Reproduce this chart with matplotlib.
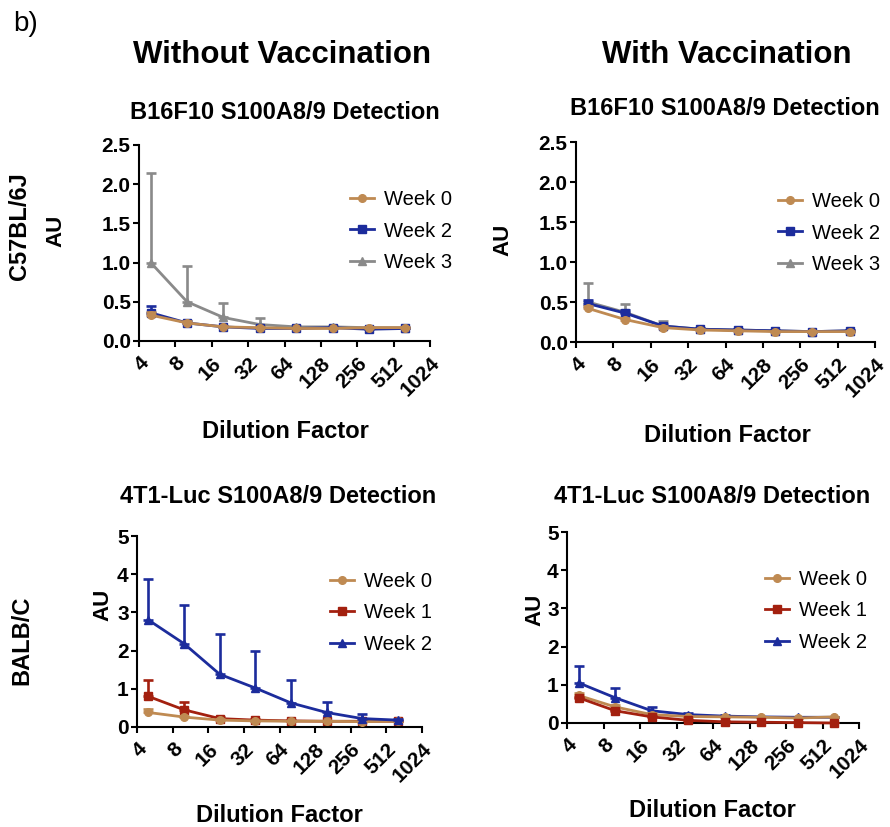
import matplotlib
matplotlib.use("Agg")
import matplotlib.pyplot as plt
import numpy as np

plt.rcParams['font.family'] = ['Liberation Sans', 'DejaVu Sans']

# ---------------- data ----------------
dilution = [5, 10, 20, 40, 80, 160, 320, 640]
xtick_vals = [4, 8, 16, 32, 64, 128, 256, 512, 1024]

# Top-left: C57BL/6J, without vaccination
tl_w0 = [0.33, 0.23, 0.18, 0.17, 0.16, 0.16, 0.17, 0.17]
tl_w0_err = [0.04, 0.02, 0.01, 0.01, 0.01, 0.01, 0.01, 0.01]
tl_w2 = [0.36, 0.23, 0.18, 0.16, 0.16, 0.17, 0.15, 0.16]
tl_w2_err = [0.09, 0.02, 0.01, 0.01, 0.01, 0.01, 0.01, 0.01]
tl_w3 = [1.00, 0.50, 0.30, 0.21, 0.18, 0.18, 0.17, 0.17]
tl_w3_err = [1.14, 0.46, 0.18, 0.08, 0.01, 0.01, 0.01, 0.01]

# Top-right: C57BL/6J, with vaccination
tr_w0 = [0.42, 0.28, 0.18, 0.15, 0.14, 0.13, 0.13, 0.13]
tr_w0_err = [0.03, 0.02, 0.02, 0.01, 0.01, 0.01, 0.01, 0.01]
tr_w2 = [0.48, 0.36, 0.20, 0.16, 0.15, 0.14, 0.13, 0.14]
tr_w2_err = [0.05, 0.04, 0.02, 0.01, 0.01, 0.01, 0.01, 0.01]
tr_w3 = [0.50, 0.37, 0.20, 0.16, 0.15, 0.14, 0.13, 0.14]
tr_w3_err = [0.24, 0.11, 0.06, 0.02, 0.01, 0.01, 0.01, 0.01]

# Bottom-left: BALB/C, without vaccination
bl_w0 = [0.38, 0.26, 0.18, 0.16, 0.15, 0.15, 0.14, 0.15]
bl_w0_err = [0.10, 0.03, 0.02, 0.01, 0.01, 0.01, 0.01, 0.01]
bl_w1 = [0.80, 0.45, 0.22, 0.18, 0.16, 0.15, 0.15, 0.15]
bl_w1_err = [0.42, 0.21, 0.04, 0.03, 0.02, 0.01, 0.01, 0.01]
bl_w2 = [2.80, 2.18, 1.38, 1.02, 0.63, 0.38, 0.22, 0.18]
bl_w2_err = [1.08, 1.02, 1.05, 0.98, 0.60, 0.27, 0.13, 0.04]

# Bottom-right: BALB/C, with vaccination
br_w0 = [0.72, 0.42, 0.22, 0.17, 0.16, 0.15, 0.13, 0.16]
br_w0_err = [0.07, 0.04, 0.03, 0.02, 0.01, 0.01, 0.01, 0.01]
br_w1 = [0.66, 0.32, 0.16, 0.07, 0.03, 0.02, 0.01, 0.00]
br_w1_err = [0.03, 0.02, 0.02, 0.01, 0.01, 0.01, 0.01, 0.01]
br_w2 = [1.05, 0.66, 0.32, 0.22, 0.18, 0.16, 0.15, 0.15]
br_w2_err = [0.43, 0.26, 0.10, 0.03, 0.02, 0.01, 0.01, 0.01]

C_TAN = "#BF8A52"
C_BLUE = "#1C2C9C"
C_GRAY = "#8A8A8A"
C_RED = "#A3200F"

W, H = 890, 827
fig = plt.figure(figsize=(W / 100, H / 100), dpi=100)


def px_axes(left, right, top, bottom):
    return fig.add_axes([left / W, 1 - bottom / H, (right - left) / W, (bottom - top) / H])


def ftext(x, y, s, **kw):
    fig.text(x / W, 1 - y / H, s, **kw)


def series(ax, y, err, color, marker, label, z):
    y = np.asarray(y)
    err = np.asarray(err)
    ax.errorbar(dilution, y, yerr=[np.zeros_like(err), err], fmt='none',
                ecolor=color, elinewidth=1.9, capsize=3.5, capthick=1.9, zorder=z)
    ln, = ax.plot(dilution, y, color=color, lw=2.0, marker=marker, ms=5.5,
                  mfc=color, mec=color, label=label, zorder=z + 0.5, clip_on=False)
    return ln


def style(ax, ymax, ystep, fmt):
    ax.set_xscale('log', base=2)
    ax.set_xlim(4, 1024)
    ax.set_ylim(0, ymax)
    ax.set_xticks(xtick_vals)
    ax.set_xticklabels([str(v) for v in xtick_vals], rotation=45, ha='right',
                       rotation_mode='anchor', fontsize=15, fontweight='bold')
    ax.xaxis.set_minor_locator(matplotlib.ticker.NullLocator())
    yt = np.arange(0, ymax + 1e-9, ystep)
    ax.set_yticks(yt)
    ax.set_yticklabels([fmt.format(v) for v in yt], fontsize=15, fontweight='bold')
    for s in ['top', 'right']:
        ax.spines[s].set_visible(False)
    for s in ['left', 'bottom']:
        ax.spines[s].set_linewidth(1.5)
    ax.tick_params(axis='both', direction='out', length=4, width=1.5)
    ax.tick_params(axis='x', pad=5)
    ax.tick_params(axis='y', pad=2)
    ax.patch.set_alpha(0)


def legend(ax, handles, hx, hy):
    ax.legend(handles=handles, loc='center left', bbox_to_anchor=(hx / W, 1 - hy / H),
              bbox_transform=fig.transFigure, frameon=False, fontsize=14.5,
              borderpad=0, borderaxespad=0, handlelength=1.2, handletextpad=0.5,
              labelspacing=0.6)


# Top-left
ax1 = px_axes(139, 430, 145, 341)
g = series(ax1, tl_w3, tl_w3_err, C_GRAY, '^', 'Week 3', 2)
b = series(ax1, tl_w2, tl_w2_err, C_BLUE, 's', 'Week 2', 3)
t = series(ax1, tl_w0, tl_w0_err, C_TAN, 'o', 'Week 0', 4)
style(ax1, 2.5, 0.5, "{:.1f}")
legend(ax1, [t, b, g], 350, 231)

# Top-right
ax2 = px_axes(576, 875, 142, 342)
g = series(ax2, tr_w3, tr_w3_err, C_GRAY, '^', 'Week 3', 2)
b = series(ax2, tr_w2, tr_w2_err, C_BLUE, 's', 'Week 2', 3)
t = series(ax2, tr_w0, tr_w0_err, C_TAN, 'o', 'Week 0', 4)
style(ax2, 2.5, 0.5, "{:.1f}")
legend(ax2, [t, b, g], 778, 233)

# Bottom-left
ax3 = px_axes(137, 422, 536, 727)
r = series(ax3, bl_w1, bl_w1_err, C_RED, 's', 'Week 1', 2)
t = series(ax3, bl_w0, bl_w0_err, C_TAN, 'o', 'Week 0', 3)
b = series(ax3, bl_w2, bl_w2_err, C_BLUE, '^', 'Week 2', 4)
style(ax3, 5, 1, "{:.0f}")
legend(ax3, [t, r, b], 330, 613)

# Bottom-right
ax4 = px_axes(567, 859, 532, 723)
b = series(ax4, br_w2, br_w2_err, C_BLUE, '^', 'Week 2', 2)
t = series(ax4, br_w0, br_w0_err, C_TAN, 'o', 'Week 0', 3)
r = series(ax4, br_w1, br_w1_err, C_RED, 's', 'Week 1', 4)
style(ax4, 5, 1, "{:.0f}")
legend(ax4, [t, r, b], 765, 611)

# ---------------- texts ----------------
ftext(13, 24, "b)", fontsize=20, ha='left', va='center')
ftext(282, 63, "Without Vaccination", fontsize=22.5, fontweight='bold', ha='center', va='baseline')
ftext(727, 63, "With Vaccination", fontsize=22.5, fontweight='bold', ha='center', va='baseline')

ftext(285, 119, "B16F10 S100A8/9 Detection", fontsize=17, fontweight='bold', ha='center', va='baseline')
ftext(725, 115, "B16F10 S100A8/9 Detection", fontsize=17, fontweight='bold', ha='center', va='baseline')
ftext(278, 503, "4T1-Luc S100A8/9 Detection", fontsize=17, fontweight='bold', ha='center', va='baseline')
ftext(712, 503, "4T1-Luc S100A8/9 Detection", fontsize=17, fontweight='bold', ha='center', va='baseline')

ftext(285, 438, "Dilution Factor", fontsize=17, fontweight='bold', ha='center', va='baseline')
ftext(727, 442, "Dilution Factor", fontsize=17, fontweight='bold', ha='center', va='baseline')
ftext(279, 822, "Dilution Factor", fontsize=17, fontweight='bold', ha='center', va='baseline')
ftext(712, 817, "Dilution Factor", fontsize=17, fontweight='bold', ha='center', va='baseline')

ftext(20, 226, "C57BL/6J", fontsize=17, fontweight='bold', rotation=90, ha='center', va='center')
ftext(22, 640, "BALB/C", fontsize=17, fontweight='bold', rotation=90, ha='center', va='center')

ftext(56, 231, "AU", fontsize=16, fontweight='bold', rotation=90, ha='center', va='center')
ftext(503, 240, "AU", fontsize=16, fontweight='bold', rotation=90, ha='center', va='center')
ftext(103, 605, "AU", fontsize=16, fontweight='bold', rotation=90, ha='center', va='center')
ftext(535, 610, "AU", fontsize=16, fontweight='bold', rotation=90, ha='center', va='center')

fig.savefig("out.png", dpi=100)
